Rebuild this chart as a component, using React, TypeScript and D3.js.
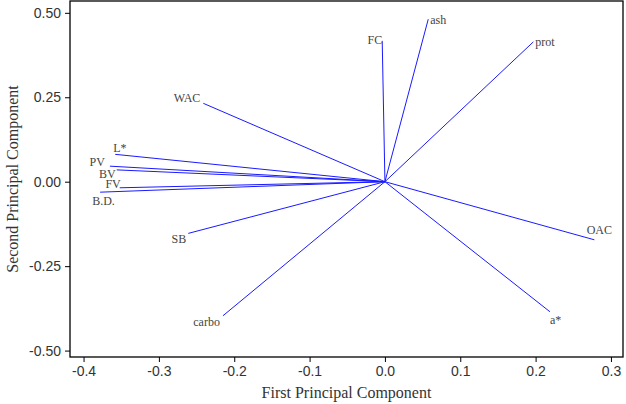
import React, { useEffect, useRef } from "react";
import * as d3 from "d3";

// loadings
const variables = ["ash", "FC", "prot", "WAC", "L*", "PV", "BV", "FV", "B.D.", "SB", "carbo", "OAC", "a*"];
const pc1 = [0.0575, -0.0036, 0.197, -0.241, -0.358, -0.365, -0.356, -0.352, -0.378, -0.261, -0.215, 0.278, 0.219];
const pc2 = [0.481, 0.417, 0.414, 0.232, 0.081, 0.046, 0.035, -0.018, -0.031, -0.153, -0.397, -0.172, -0.385];

const xTicks = [-0.4, -0.3, -0.2, -0.1, 0.0, 0.1, 0.2, 0.3];
const yTicks = [-0.5, -0.25, 0, 0.25, 0.5];

// where each label sits relative to its arrow tip
const labelPlace: Record<string, [number, number, string]> = {
  ash: [2, 5, "start"],
  FC: [0, 3, "end"],
  prot: [2, 4, "start"],
  WAC: [-3, -1, "end"],
  "L*": [-2, -2, "start"],
  PV: [-5, 0, "end"],
  BV: [-1, 8, "end"],
  FV: [1, 0, "end"],
  "B.D.": [-8, 13, "start"],
  SB: [-2, 10, "end"],
  carbo: [-3, 10, "end"],
  OAC: [5, -6, "middle"],
  "a*": [0, 12, "start"],
};

export default function App() {
  const ref = useRef<SVGSVGElement>(null);
  const width = 626;
  const height = 404;
  const margin = { top: 1, right: 3, bottom: 47, left: 70 };

  useEffect(() => {
    const svg = d3.select(ref.current);
    svg.selectAll("*").remove();

    const x = d3.scaleLinear().domain([-0.418, 0.316]).range([margin.left, width - margin.right]);
    const y = d3.scaleLinear().domain([-0.519, 0.535]).range([height - margin.bottom, margin.top]);

    // frame
    svg.append("rect")
      .attr("x", margin.left)
      .attr("y", margin.top)
      .attr("width", width - margin.right - margin.left)
      .attr("height", height - margin.bottom - margin.top)
      .attr("fill", "none")
      .attr("stroke", "#000")
      .attr("stroke-width", 1.3);

    const xAxis = svg.append("g")
      .attr("transform", `translate(0,${height - margin.bottom})`)
      .call(d3.axisBottom(x).tickValues(xTicks).tickSize(5).tickPadding(4).tickFormat(d3.format(".1f")));
    const yAxis = svg.append("g")
      .attr("transform", `translate(${margin.left},0)`)
      .call(d3.axisLeft(y).tickValues(yTicks).tickSize(5).tickPadding(4).tickFormat(d3.format(".2f")));

    [xAxis, yAxis].forEach((g) => {
      g.select(".domain").remove();
      g.selectAll("line").attr("stroke", "#000");
      g.selectAll("text")
        .attr("fill", "#333")
        .style("font-family", "'Liberation Sans', Arial, sans-serif")
        .style("font-size", "14px");
    });
    // d3.format gives a proper minus sign; the picture uses a hyphen
    svg.selectAll(".tick text").text(function () {
      return (d3.select(this).text() as string).replace("\u2212", "-");
    });

    const vecs = svg.append("g");
    variables.forEach((name, i) => {
      vecs.append("line")
        .attr("x1", x(0))
        .attr("y1", y(0))
        .attr("x2", x(pc1[i]))
        .attr("y2", y(pc2[i]))
        .attr("stroke", "#1a1aff")
        .attr("stroke-width", 1);
      const [dx, dy, anchor] = labelPlace[name];
      vecs.append("text")
        .attr("x", x(pc1[i]) + dx)
        .attr("y", y(pc2[i]) + dy)
        .attr("text-anchor", anchor)
        .attr("fill", "#444")
        .style("font-family", "'Liberation Serif', 'Times New Roman', serif")
        .style("font-size", "12px")
        .text(name);
    });

    svg.append("text")
      .attr("x", (margin.left + width - margin.right) / 2)
      .attr("y", height - 6)
      .attr("text-anchor", "middle")
      .attr("fill", "#333")
      .style("font-family", "'Liberation Serif', 'Times New Roman', serif")
      .style("font-size", "16px")
      .text("First Principal Component");

    svg.append("text")
      .attr("transform", `translate(18,${(margin.top + height - margin.bottom) / 2}) rotate(-90)`)
      .attr("text-anchor", "middle")
      .attr("fill", "#333")
      .style("font-family", "'Liberation Serif', 'Times New Roman', serif")
      .style("font-size", "16px")
      .text("Second Principal Component");
  }, []);

  return (
    <svg
      ref={ref}
      width={width}
      height={height}
      style={{ position: "absolute", left: 0, top: 0, background: "#fff" }}
    />
  );
}
